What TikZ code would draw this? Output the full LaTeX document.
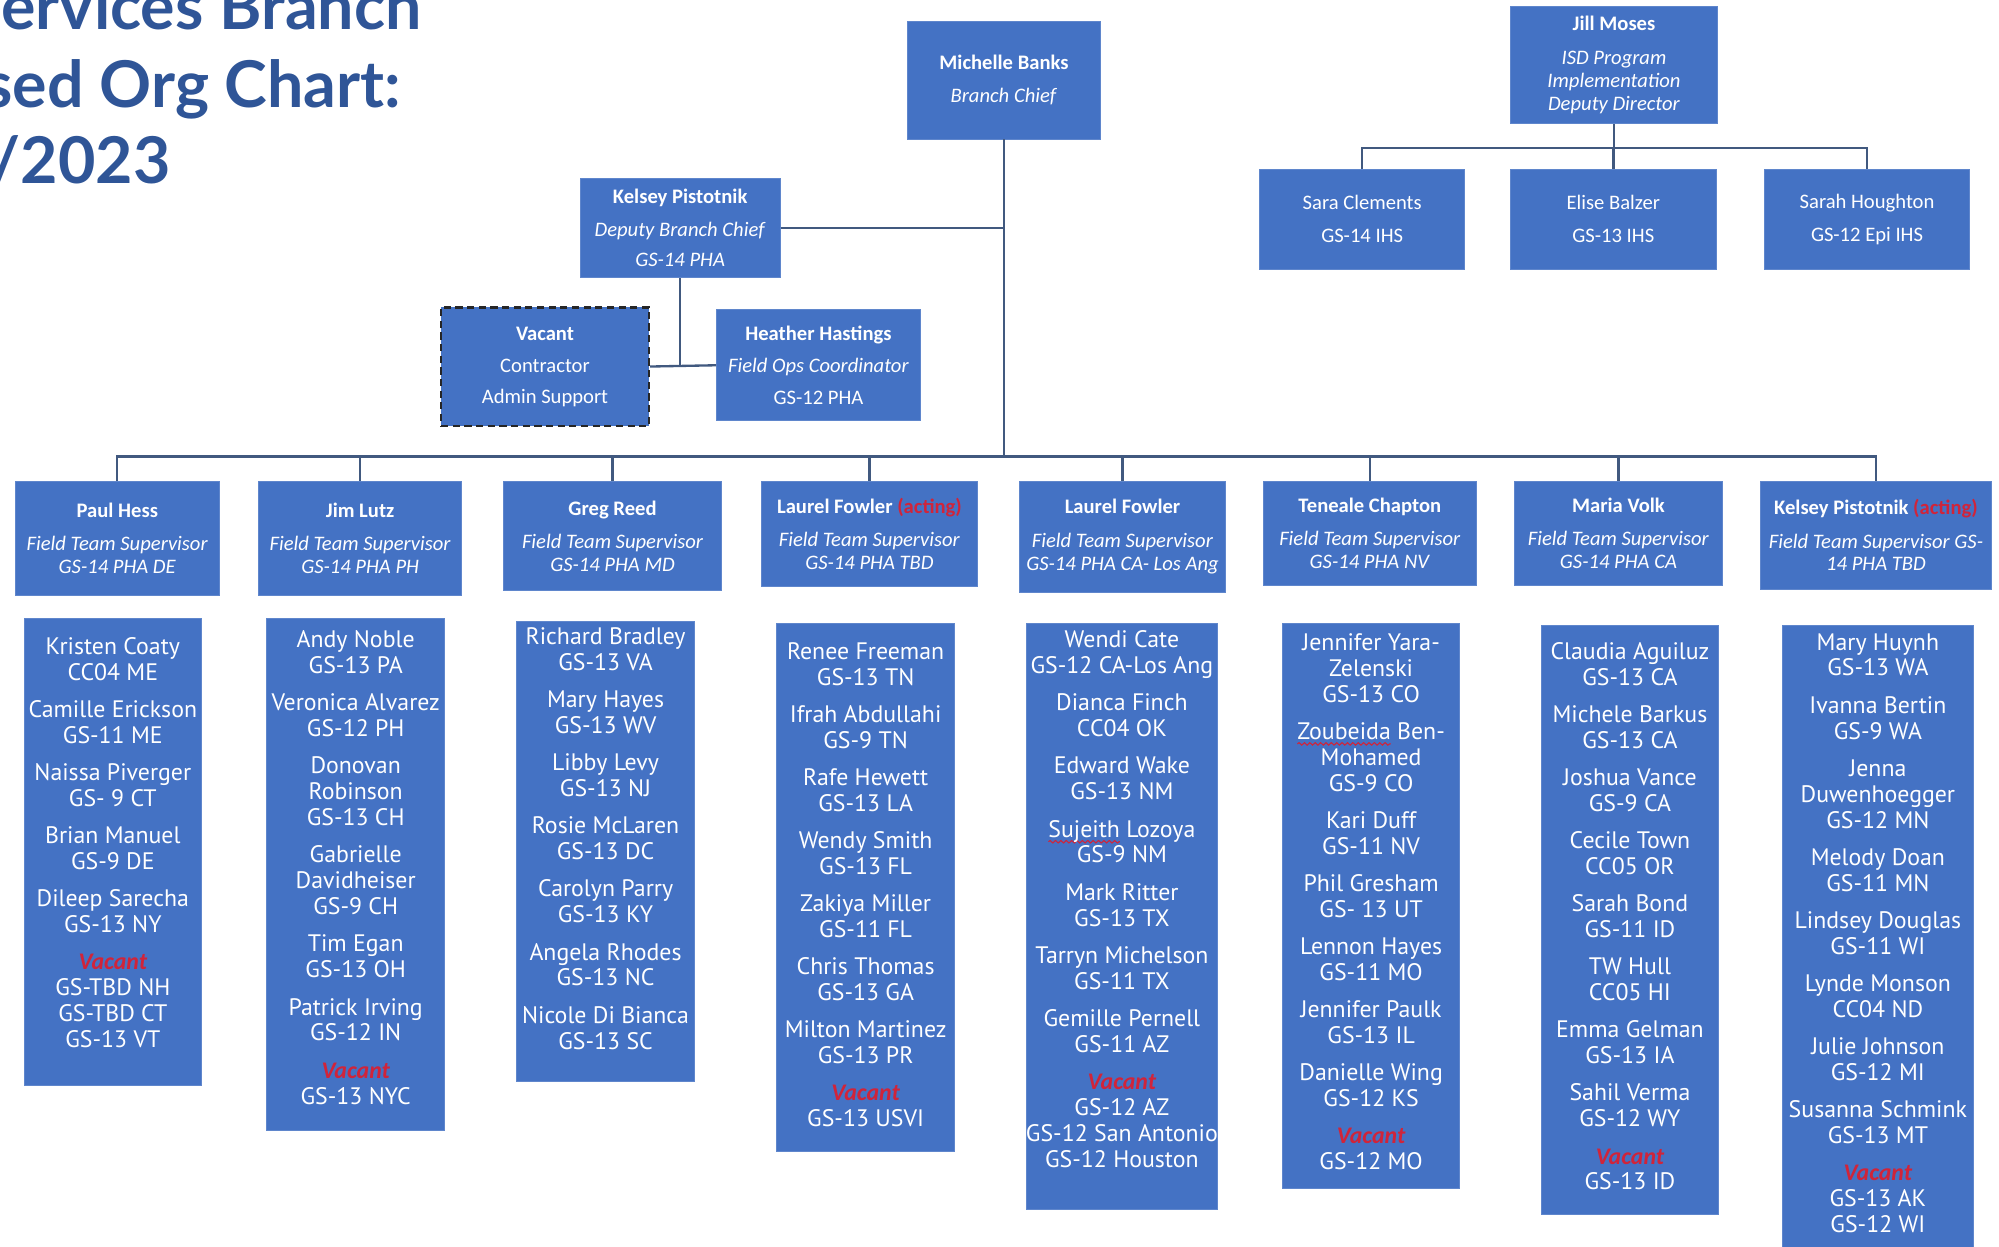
\documentclass[tikz,border=0pt]{standalone}
\usepackage{fontspec}
\setmainfont{Carlito}
\newfontfamily\colfont{PT Sans}
\newfontfamily\titlefont{Lato}
\usetikzlibrary{decorations.pathmorphing}

\definecolor{boxblue}{HTML}{4472C4}
\definecolor{boxedge}{HTML}{5F86CC}
\definecolor{linkline}{HTML}{41597F}
\definecolor{titleblue}{HTML}{2F5597}
\definecolor{flagred}{HTML}{D0243A}

\newsavebox{\squigbox}
\newcommand{\vac}{{\normalfont\bfseries\itshape\color{flagred}Vacant}}
\newcommand{\acting}{{\color{flagred}(acting)}}
\newcommand{\squig}[1]{\sbox{\squigbox}{#1}\rlap{\tikz[overlay]\draw[flagred, line width=0.6pt,
    decorate, decoration={snake, amplitude=0.7pt, segment length=3pt}] (0pt,-2.6pt) -- (\the\wd\squigbox,-2.6pt);}#1}
\newcommand{\nx}{\\[6.3pt]}

\begin{document}
\begin{tikzpicture}[x=0.025cm, y=-0.025cm,
        box/.style={draw=boxedge, line width=0.5pt, fill=boxblue, text=white, align=center,
            inner sep=0pt, font=\fontsize{11.5}{12.8}\selectfont},
        boxsize/.style 2 args={minimum width=#1*0.025cm, minimum height=#2*0.025cm},
        coltext/.style={text=white, align=center, anchor=north, inner sep=0pt,
            font=\colfont\fontsize{13.3}{14.45}\selectfont},
        link/.style={draw=linkline, line width=1.3pt},
        heading/.style={text=titleblue, anchor=base east, inner sep=0pt,
            font=\titlefont\bfseries\fontsize{36}{40}\selectfont}]

    \useasboundingbox (0,0) rectangle (1568,977.5);
    \clip (0,0) rectangle (1568,977.5);

    \node[heading] (t1) at (331,23) {Services Branch};
    \node[heading] (t2) at (315,84) {sed Org Chart:};
    \node[heading] (t3) at (134,144) {/2023};

    \node[box, boxsize={151}{92}] (mb) at (787.5,63)
        {\textbf{Michelle Banks}\\[5.5pt]\textit{Branch Chief}};
    \node[box, boxsize={162}{92}] (jm) at (1266,51)
        {\textbf{Jill Moses}\\[6pt]\textit{ISD Program}\\\textit{Implementation}\\\textit{Deputy Director}};
    \node[box, boxsize={161}{78}] (sc) at (1068.5,172) {Sara Clements\\[5.7pt]GS-14 IHS};
    \node[box, boxsize={161}{78}] (eb) at (1265.5,172) {Elise Balzer\\[5.7pt]GS-13 IHS};
    \node[box, boxsize={161}{78}] (sh) at (1464.5,172) {Sarah Houghton\\[5.7pt]GS-12 Epi IHS};
    \node[box, boxsize={157}{78}] (dep) at (533.5,179)
        {\textbf{Kelsey Pistotnik}\\[5.5pt]\textit{Deputy Branch Chief}\\[4pt]\textit{GS-14 PHA}};
    \node[box, boxsize={163}{93}, draw=black!85, line width=1.4pt, dash pattern=on 4pt off 2.5pt] (vac) at (427.5,287.5)
        {\textbf{Vacant}\\[5.5pt]Contractor\\[4pt]Admin Support};
    \node[box, boxsize={160}{87}] (hh) at (642,286.5)
        {\textbf{Heather Hastings}\\[5.5pt]\textit{Field Ops Coordinator}\\[5pt]GS-12 PHA};

    \node[box, anchor=north, boxsize={160}{90}] (s1) at (92,377)
        {\textbf{Paul Hess}\\[5.7pt]\textit{Field Team Supervisor}\\\textit{GS-14 PHA DE}};
    \node[box, anchor=north, boxsize={159}{90}] (s2) at (282.5,377)
        {\textbf{Jim Lutz}\\[5.7pt]\textit{Field Team Supervisor}\\\textit{GS-14 PHA PH}};
    \node[box, anchor=north, boxsize={171}{86}] (s3) at (480.5,377)
        {\textbf{Greg Reed}\\[5.7pt]\textit{Field Team Supervisor}\\\textit{GS-14 PHA MD}};
    \node[box, anchor=north, boxsize={170}{83}] (s4) at (682,377)
        {\textbf{Laurel Fowler \acting}\\[5.7pt]\textit{Field Team Supervisor}\\\textit{GS-14 PHA TBD}};
    \node[box, anchor=north, boxsize={161}{87}] (s5) at (880.5,377)
        {\textbf{Laurel Fowler}\\[5.7pt]\textit{Field Team Supervisor}\\\textit{GS-14 PHA CA- Los Ang}};
    \node[box, anchor=north, boxsize={167}{82}] (s6) at (1074.5,377)
        {\textbf{Teneale Chapton}\\[5.7pt]\textit{Field Team Supervisor}\\\textit{GS-14 PHA NV}};
    \node[box, anchor=north, boxsize={163}{82}] (s7) at (1269.5,377)
        {\textbf{Maria Volk}\\[5.7pt]\textit{Field Team Supervisor}\\\textit{GS-14 PHA CA}};
    \node[box, anchor=north, boxsize={181}{85}] (s8) at (1471.5,377)
        {\textbf{Kelsey Pistotnik \acting}\\[5.7pt]\textit{Field Team Supervisor GS-}\\\textit{14 PHA TBD}};

    \node[box, anchor=north, boxsize={139}{366}] (c1) at (88.5,485) {};
    \node[coltext] (n1) at (88.5,499.5)
        {Kristen Coaty\\CC04 ME\nx Camille Erickson\\GS-11 ME\nx Naissa Piverger\\GS- 9 CT\nx
         Brian Manuel\\GS-9 DE\nx Dileep Sarecha\\GS-13 NY\nx \vac\\GS-TBD NH\\GS-TBD CT\\GS-13 VT};
    \node[box, anchor=north, boxsize={140}{401}] (c2) at (279,485) {};
    \node[coltext] (n2) at (279,494.5)
        {Andy Noble\\GS-13 PA\nx Veronica Alvarez\\GS-12 PH\nx Donovan\\Robinson\\GS-13 CH\nx
         Gabrielle\\Davidheiser\\GS-9 CH\nx Tim Egan\\GS-13 OH\nx Patrick Irving\\GS-12 IN\nx \vac\\GS-13 NYC};
    \node[box, anchor=north, boxsize={140}{361}] (c3) at (475,487) {};
    \node[coltext] (n3) at (475,492)
        {Richard Bradley\\GS-13 VA\nx Mary Hayes\\GS-13 WV\nx Libby Levy\\GS-13 NJ\nx
         Rosie McLaren\\GS-13 DC\nx Carolyn Parry\\GS-13 KY\nx Angela Rhodes\\GS-13 NC\nx Nicole Di Bianca\\GS-13 SC};
    \node[box, anchor=north, boxsize={140}{414}] (c4) at (679,489) {};
    \node[coltext] (n4) at (679,503.5)
        {Renee Freeman\\GS-13 TN\nx Ifrah Abdullahi\\GS-9 TN\nx Rafe Hewett\\GS-13 LA\nx Wendy Smith\\GS-13 FL\nx
         Zakiya Miller\\GS-11 FL\nx Chris Thomas\\GS-13 GA\nx Milton Martinez\\GS-13 PR\nx \vac\\GS-13 USVI};
    \node[box, anchor=north, boxsize={150}{459}] (c5) at (880,489) {};
    \node[coltext] (n5) at (880,494.5)
        {Wendi Cate\\GS-12 CA-Los Ang\nx Dianca Finch\\CC04 OK\nx Edward Wake\\GS-13 NM\nx
         \squig{Sujeith} Lozoya\\GS-9 NM\nx Mark Ritter\\GS-13 TX\nx Tarryn Michelson\\GS-11 TX\nx
         Gemille Pernell\\GS-11 AZ\nx \vac\\GS-12 AZ\\GS-12 San Antonio\\GS-12 Houston};
    \node[box, anchor=north, boxsize={139}{443}] (c6) at (1075.5,489) {};
    \node[coltext] (n6) at (1075.5,496.5)
        {Jennifer Yara-\\Zelenski\\GS-13 CO\nx \squig{Zoubeida} Ben-\\Mohamed\\GS-9 CO\nx Kari Duff\\GS-11 NV\nx
         Phil Gresham\\GS- 13 UT\nx Lennon Hayes\\GS-11 MO\nx Jennifer Paulk\\GS-13 IL\nx
         Danielle Wing\\GS-12 KS\nx \vac\\GS-12 MO};
    \node[box, anchor=north, boxsize={139}{462}] (c7) at (1278.5,490) {};
    \node[coltext] (n7) at (1278.5,503.5)
        {Claudia Aguiluz\\GS-13 CA\nx Michele Barkus\\GS-13 CA\nx Joshua Vance\\GS-9 CA\nx Cecile Town\\CC05 OR\nx
         Sarah Bond\\GS-11 ID\nx TW Hull\\CC05 HI\nx Emma Gelman\\GS-13 IA\nx Sahil Verma\\GS-12 WY\nx \vac\\GS-13 ID};
    \node[box, anchor=north, boxsize={150}{500}] (c8) at (1473,490) {};
    \node[coltext] (n8) at (1473,496.5)
        {Mary Huynh\\GS-13 WA\nx Ivanna Bertin\\GS-9 WA\nx Jenna\\Duwenhoegger\\GS-12 MN\nx Melody Doan\\GS-11 MN\nx
         Lindsey Douglas\\GS-11 WI\nx Lynde Monson\\CC04 ND\nx Julie Johnson\\GS-12 MI\nx
         Susanna Schmink\\GS-13 MT\nx \vac\\GS-13 AK\\GS-12 WI};

    \coordinate (bus) at (787.5,358);
    \coordinate (jbus) at (1266,116);
    \draw[link] (mb.south) -- (bus);
    \foreach \s in {s1,s2,s3,s4,s5,s6,s7,s8}
        \draw[link] (bus) -| (\s.north);
    \draw[link] (jm.south) -- (jbus);
    \foreach \s in {sc,eb,sh}
        \draw[link] (jbus) -| (\s.north);
    \draw[link] (dep.east) -- (dep.east -| mb.south);
    \coordinate (dj) at (dep.south |- vac.east);
    \draw[link] (dep.south) -- (dj);
    \draw[link] (vac.east) -- (hh.west);
\end{tikzpicture}
\end{document}
